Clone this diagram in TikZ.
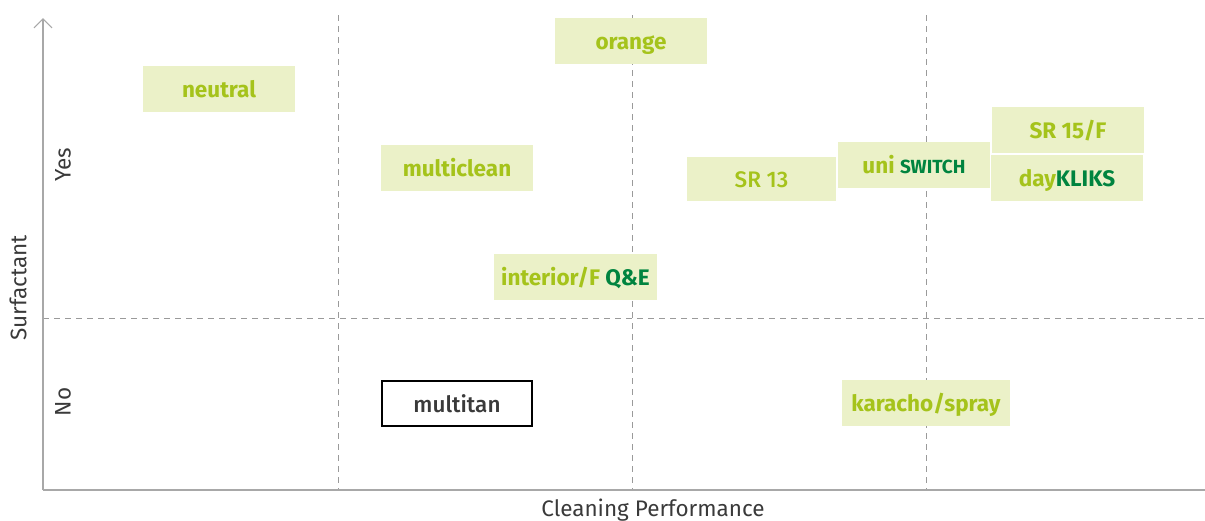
\documentclass[tikz,border=0pt]{standalone}
\usepackage{fontspec}
\setmainfont{Fira Sans}
\newfontfamily\firamed{Fira Sans Medium}
\usetikzlibrary{arrows.meta}
\definecolor{lgreen}{HTML}{A5C31B}
\definecolor{dgreen}{HTML}{00843F}
\definecolor{boxfill}{HTML}{EBF1C8}
\definecolor{axisgray}{HTML}{A8A8A8}
\definecolor{dashgray}{HTML}{9A9A9A}
\definecolor{txtgray}{HTML}{3A3A3A}
\tikzset{
  prod/.style={fill=boxfill, draw=none, inner sep=0pt, minimum width=152pt, minimum height=46pt,
    text height=17.5pt, text depth=0pt,
    font=\fontsize{22.5}{26}\selectfont\bfseries, text=lgreen},
  grid/.style={draw=dashgray, line width=0.9pt, dash pattern=on 6pt off 5pt},
  axisline/.style={draw=axisgray, line width=1.4pt},
  axlabel/.style={font=\fontsize{22.5}{26}\selectfont, text=txtgray},
  dk/.style={text=dgreen}
}
\begin{document}
\begin{tikzpicture}[x=1pt,y=-1pt]
\useasboundingbox (0,0) rectangle (1205,520);
% grid
\coordinate (g1t) at (338,15); \coordinate (g1b) at (338,490);
\coordinate (g2t) at (632,15); \coordinate (g2b) at (632,490);
\coordinate (g3t) at (926,15); \coordinate (g3b) at (926,490);
\coordinate (hl) at (43,318); \coordinate (hr) at (1205,318);
\draw[grid] (g1t) -- (g1b);
\draw[grid] (g2t) -- (g2b);
\draw[grid] (g3t) -- (g3b);
\draw[grid] (hl) -- (hr);
% axes
\coordinate (o) at (43,490);
\coordinate (ytop) at (43,18);
\coordinate (xend) at (1205,490);
\draw[axisline] (o) -- (xend);
\draw[axisline, -{Straight Barb[length=9pt,width=18pt,line width=1.2pt]}] (o) -- (ytop);
% axis labels
\node[axlabel, rotate=90] (surf) at (18,288) {Surfactant};
\node[axlabel, rotate=90] (yes) at (63,165) {Yes};
\node[axlabel, rotate=90] (no) at (63,402) {No};
\node[axlabel] (clean) at (653,510) {Cleaning Performance};
% products
\node[prod] (neutral) at (219,89) {neutral};
\node[prod] (orange) at (631,41) {orange};
\node[prod] (multiclean) at (457,168) {multiclean};
\node[prod, minimum width=149pt, minimum height=44pt, font=\fontsize{22.5}{26}\firamed] (sr13) at (761.5,179) {SR 13};
\node[prod] (uni) at (914,165) {uni {\color{dgreen}\fontsize{19}{22}\selectfont SWITCH}};
\node[prod] (sr15) at (1068,130) {SR 15/F};
\node[prod] (day) at (1067,178) {day{\color{dgreen}KLIKS}};
\node[prod, minimum width=163pt] (interior) at (575.5,277) {interior/F {\color{dgreen}Q\&E}};
\node[prod, minimum width=168pt] (karacho) at (926,403) {karacho/spray};
\node[prod, fill=white, draw=black, line width=1.2pt, minimum width=150pt, minimum height=45pt,
  font=\fontsize{22.5}{26}\firamed, text=txtgray] (multitan) at (457,403.5) {multitan};
\end{tikzpicture}
\end{document}
